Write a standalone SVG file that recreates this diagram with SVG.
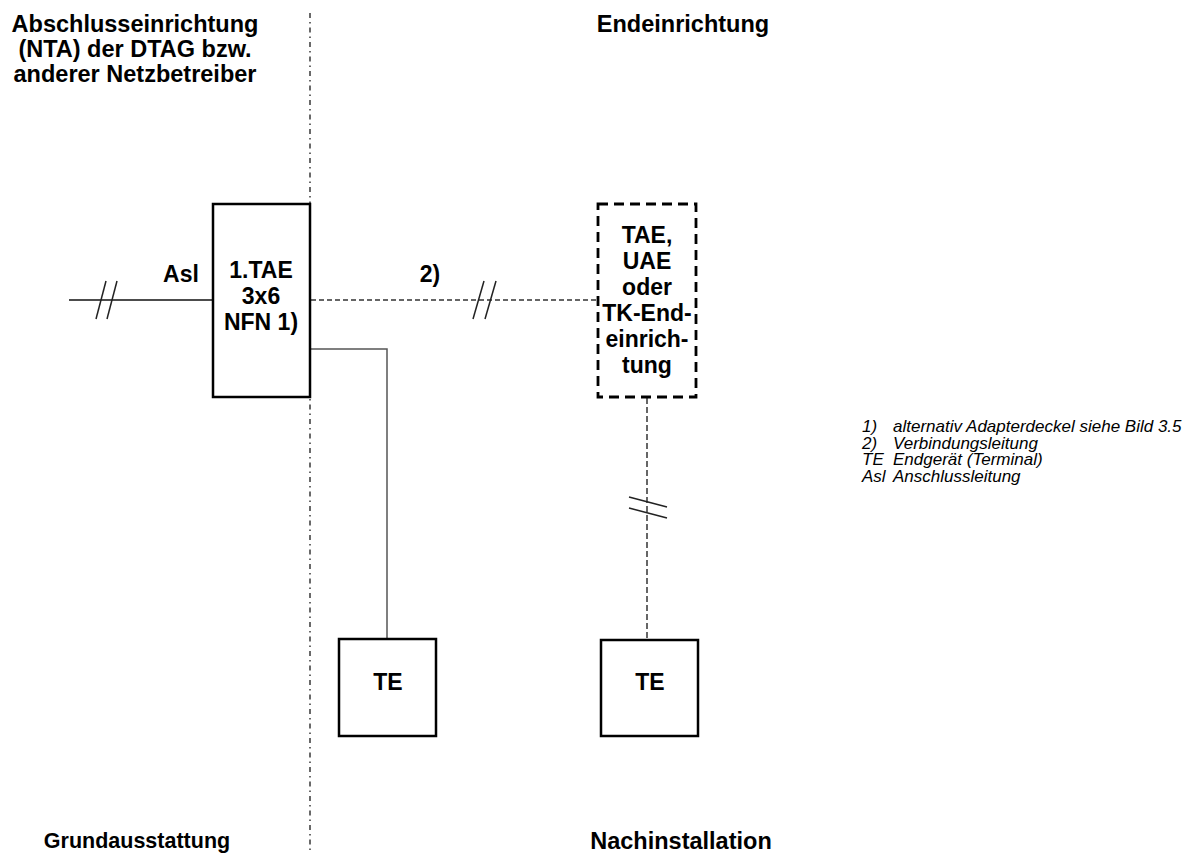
<svg xmlns="http://www.w3.org/2000/svg" width="1189" height="854" viewBox="0 0 1189 854">
  <style>
    .hdr { font-family: "Liberation Sans", Arial, sans-serif; font-weight: bold; font-size: 23.5px; fill: #000; text-anchor: middle; }
    .lbl { font-family: "Liberation Sans", Arial, sans-serif; font-weight: bold; font-size: 23px; fill: #000; text-anchor: middle; }
    .leg { font-family: "Liberation Sans", Arial, sans-serif; font-style: italic; font-size: 17px; fill: #000; }
    .box { fill: #fff; stroke: #000; stroke-width: 2.5; }
    .dbox { fill: none; stroke: #000; stroke-width: 2.8; stroke-dasharray: 10 6; }
    .tick { stroke: #222; stroke-width: 1.5; fill: none; }
  </style>
  <rect width="1189" height="854" fill="#fff"/>

  <!-- divider -->
  <g id="divider">
    <line x1="310" y1="13" x2="310" y2="854" stroke="#444" stroke-width="1.6" stroke-dasharray="5 4 1.5 4"/>
  </g>

  <!-- headers -->
  <g id="headers">
    <text class="hdr" x="135" y="32">Abschlusseinrichtung</text>
    <text class="hdr" x="135" y="57">(NTA) der DTAG bzw.</text>
    <text class="hdr" x="135" y="82">anderer Netzbetreiber</text>
    <text class="hdr" x="683" y="32">Endeinrichtung</text>
    <text class="hdr" x="137" y="848" style="font-size:21.5px">Grundausstattung</text>
    <text class="hdr" x="681" y="849">Nachinstallation</text>
  </g>

  <!-- connectors -->
  <g id="connectors">
    <line x1="69" y1="300" x2="213" y2="300" stroke="#111" stroke-width="1.5"/>
    <line class="tick" x1="96" y1="319" x2="106" y2="281"/>
    <line class="tick" x1="107" y1="319" x2="117" y2="281"/>
    <line x1="311" y1="300" x2="598" y2="300" stroke="#333" stroke-width="1.5" stroke-dasharray="5 3"/>
    <line class="tick" x1="473" y1="319" x2="484" y2="281"/>
    <line class="tick" x1="485" y1="319" x2="496" y2="281"/>
    <polyline points="311,349 387,349 387,639" fill="none" stroke="#555" stroke-width="1.5"/>
    <line x1="647" y1="398" x2="647" y2="640" stroke="#666" stroke-width="2" stroke-dasharray="6 3"/>
    <line class="tick" x1="629" y1="497" x2="667" y2="507"/>
    <line class="tick" x1="629" y1="508" x2="667" y2="518"/>
    <text class="lbl" x="181" y="282">Asl</text>
    <text class="lbl" x="430" y="282">2)</text>
  </g>

  <!-- node: 1.TAE -->
  <g id="tae1">
    <rect class="box" x="213" y="204" width="97" height="193"/>
    <text class="lbl" x="261" y="278">1.TAE</text>
    <text class="lbl" x="261" y="304">3x6</text>
    <text class="lbl" x="261" y="330">NFN 1)</text>
  </g>

  <!-- node: dashed end device -->
  <g id="endeinrichtung">
    <rect x="598" y="204" width="98" height="193" fill="#fff"/>
    <text class="lbl" x="647" y="243">TAE,</text>
    <text class="lbl" x="647" y="269">UAE</text>
    <text class="lbl" x="647" y="295">oder</text>
    <text class="lbl" x="647" y="321">TK-End-</text>
    <text class="lbl" x="647" y="347">einrich-</text>
    <text class="lbl" x="647" y="373">tung</text>
    <rect class="dbox" x="598" y="204" width="98" height="193"/>
  </g>

  <!-- node: TE left -->
  <g id="te1">
    <rect class="box" x="339" y="639" width="97" height="97"/>
    <text class="lbl" x="388" y="690">TE</text>
  </g>

  <!-- node: TE right -->
  <g id="te2">
    <rect class="box" x="601" y="640" width="97" height="96"/>
    <text class="lbl" x="650" y="690">TE</text>
  </g>

  <!-- legend -->
  <g id="legend">
    <text class="leg" x="862" y="432">1)</text>
    <text class="leg" x="893" y="432">alternativ Adapterdeckel siehe Bild 3.5</text>
    <text class="leg" x="862" y="448.5">2)</text>
    <text class="leg" x="893" y="448.5">Verbindungsleitung</text>
    <text class="leg" x="862" y="465">TE</text>
    <text class="leg" x="893" y="465">Endgerät (Terminal)</text>
    <text class="leg" x="862" y="481.5">Asl</text>
    <text class="leg" x="893" y="481.5">Anschlussleitung</text>
  </g>
</svg>
